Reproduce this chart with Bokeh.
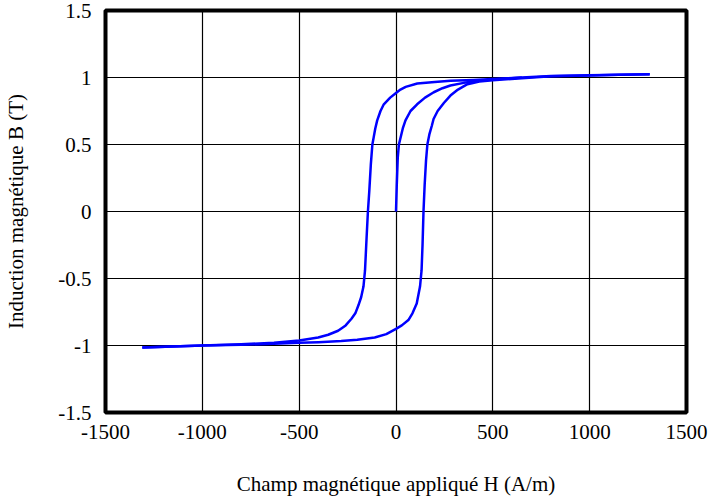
from bokeh.plotting import figure
from bokeh.models import FixedTicker, NumeralTickFormatter, Range1d
from bokeh.embed import file_html
from bokeh.resources import INLINE

# Initial magnetisation curve
H_initial = [0, 4, 9, 15, 25, 35, 49, 75, 109, 150, 195, 240, 281, 350, 430, 500, 650]
B_initial = [0, 0.2, 0.4, 0.5, 0.56, 0.62, 0.68, 0.75, 0.80, 0.85, 0.89, 0.92, 0.94, 0.96, 0.975, 0.985, 1.0]

# Descending branch (from +Hmax to -Hmax)
H_desc = [1310, 1150, 1000, 800, 650, 500, 400, 281, 200, 110, 50, 23, 0, -30, -63, -80, -97, -107, -115, -122,
          -130, -138, -145, -152, -160, -168, -180, -194, -210, -230, -260, -299, -350, -402, -500, -630, -800,
          -1000, -1150, -1310]
B_desc = [1.025, 1.02, 1.017, 1.012, 1.0, 0.988, 0.982, 0.975, 0.967, 0.955, 0.93, 0.91, 0.885, 0.85, 0.80, 0.75,
          0.68, 0.62, 0.555, 0.5, 0.35, 0.15, 0.0, -0.2, -0.44, -0.56, -0.64, -0.70, -0.76, -0.80, -0.85, -0.89,
          -0.92, -0.94, -0.963, -0.98, -0.99, -1.0, -1.008, -1.015]

# Ascending branch (from -Hmax to +Hmax)
H_asc = [-1310, -1000, -800, -630, -500, -400, -283, -200, -110, -50, 0, 30, 64, 85, 107, 124, 132, 137, 142,
         148, 155, 162, 173, 185, 194, 215, 247, 281, 320, 369, 430, 500, 650, 800, 1000, 1150, 1310]
B_asc = [-1.015, -1.0, -0.995, -0.987, -0.98, -0.975, -0.967, -0.957, -0.94, -0.915, -0.876, -0.85, -0.81, -0.76,
         -0.687, -0.56, -0.44, -0.25, 0.0, 0.2, 0.38, 0.5, 0.58, 0.64, 0.69, 0.75, 0.81, 0.865, 0.91, 0.95, 0.97,
         0.98, 0.995, 1.01, 1.015, 1.02, 1.025]

x_ticks = [-1500, -1000, -500, 0, 500, 1000, 1500]
y_ticks = [-1.5, -1, -0.5, 0, 0.5, 1, 1.5]

FONT = "Liberation Serif"

p = figure(width=713, height=501, output_backend="svg", toolbar_location=None,
           x_range=Range1d(-1500, 1500), y_range=Range1d(-1.5, 1.5),
           min_border_left=105, min_border_right=27, min_border_top=10, min_border_bottom=89)

for hx, by in ((H_initial, B_initial), (H_desc, B_desc), (H_asc, B_asc)):
    p.line(hx, by, line_color="#0000FF", line_width=2.5, line_join="round")

p.outline_line_color = "black"
p.outline_line_width = 4
p.outline_line_alpha = 1

p.xaxis.ticker = FixedTicker(ticks=x_ticks)
p.yaxis.ticker = FixedTicker(ticks=y_ticks)
p.xaxis.formatter = NumeralTickFormatter(format="0")
p.yaxis.formatter = NumeralTickFormatter(format="0.[0]")

for ax in (p.xaxis[0], p.yaxis[0]):
    ax.axis_line_color = None
    ax.major_tick_line_color = None
    ax.minor_tick_line_color = None
    ax.major_label_text_font = FONT
    ax.major_label_text_font_size = "21px"
    ax.major_label_text_color = "black"
    ax.axis_label_text_font = FONT
    ax.axis_label_text_font_size = "21px"
    ax.axis_label_text_font_style = "normal"
    ax.axis_label_text_color = "black"

p.xaxis.axis_label = "Champ magnétique appliqué H (A/m)"
p.yaxis.axis_label = "Induction magnétique B (T)"
p.xaxis.major_label_standoff = 6
p.xaxis.axis_label_standoff = 30
p.yaxis.major_label_standoff = 8
p.yaxis.axis_label_standoff = 27

p.xgrid.ticker = FixedTicker(ticks=x_ticks)
p.ygrid.ticker = FixedTicker(ticks=y_ticks)
p.grid.grid_line_color = "black"
p.grid.grid_line_width = 1.2
p.grid.grid_line_alpha = 1

open("out.html", "w").write(file_html(p, INLINE))
